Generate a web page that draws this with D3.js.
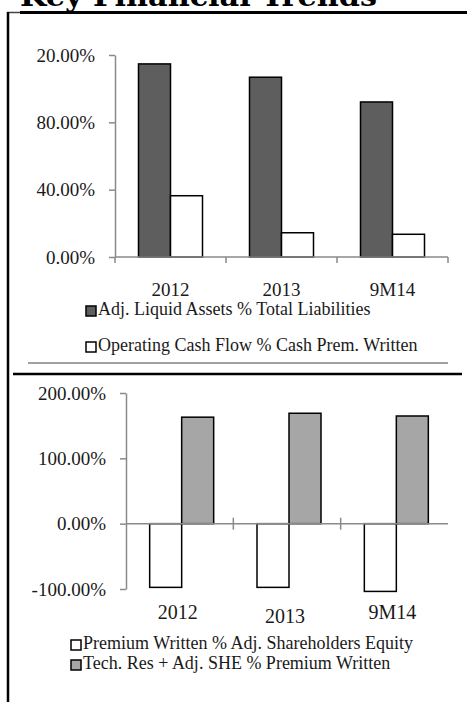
<!DOCTYPE html>
<html lang="en">
<head>
<meta charset="UTF-8">
<title>Key Financial Trends</title>
<script src="https://d3js.org/d3.v7.min.js"></script>
<style>
    body { margin: 0; background: #fff; }
    text { font-family: "Liberation Serif", "Times New Roman", serif; fill: #1a1a1a; }
    .axis path, .axis line { stroke: #8a8a8a; stroke-width: 1.5; }
    .axis text { font-size: 19px; }
    .legend text { font-size: 18px; }
</style>
</head>
<body>
<div id="chart"></div>
<script>
// chart 1: liquidity
const categories = ["2012", "2013", "9M14"];
const liquidAssets = [114.7, 106.8, 92.1];      // Adj. Liquid Assets % Total Liabilities
const operatingCash = [36.4, 14.4, 13.5];       // Operating Cash Flow % Cash Prem. Written
const topTicks = [0, 40, 80, 120];
const topTickLabels = ["0.00%", "40.00%", "80.00%", "20.00%"];

// chart 2: premium
const premiumWritten = [-97.5, -97.5, -103.7];  // Premium Written % Adj. Shareholders Equity
const techReserves = [163, 169, 164.8];         // Tech. Res + Adj. SHE % Premium Written
const bottomTicks = [-100, 0, 100, 200];
const bottomTickLabels = ["-100.00%", "0.00%", "100.00%", "200.00%"];

const width = 467, height = 702;

const svg = d3.select("#chart").append("svg")
    .attr("width", width)
    .attr("height", height);

// title, cut off at the top
svg.append("text")
    .attr("x", 20)
    .attr("y", 6)
    .attr("textLength", 357)
    .attr("lengthAdjust", "spacingAndGlyphs")
    .style("font-family", "'DejaVu Serif', serif")
    .style("font-weight", "bold")
    .style("font-size", "28px")
    .style("fill", "#000")
    .text("Key Financial Trends");

// frame lines
svg.append("line").attr("x1", 7).attr("x2", 20).attr("y1", 12.5).attr("y2", 12.5)
    .attr("stroke", "#444").attr("stroke-width", 1.5);
svg.append("line").attr("x1", 20).attr("x2", 467).attr("y1", 12.5).attr("y2", 12.5)
    .attr("stroke", "#000").attr("stroke-width", 3);
svg.append("line").attr("x1", 8).attr("x2", 8).attr("y1", 12).attr("y2", 702)
    .attr("stroke", "#000").attr("stroke-width", 2.5);
svg.append("line").attr("x1", 28).attr("x2", 448).attr("y1", 363).attr("y2", 363)
    .attr("stroke", "#a0a0a0").attr("stroke-width", 2);
svg.append("line").attr("x1", 13).attr("x2", 462).attr("y1", 374).attr("y2", 374)
    .attr("stroke", "#000").attr("stroke-width", 2.5);

// ---------- chart 1 ----------
const x1 = d3.scaleBand().domain(categories).range([115, 448]).padding(0);
const sub1 = d3.scaleBand().domain([0, 1])
    .range([x1.bandwidth() / 2 - 32, x1.bandwidth() / 2 + 32]).padding(0);
const y1 = d3.scaleLinear().domain([0, 120]).range([257, 55]);

const series1 = [
    {values: liquidAssets, fill: "#5e5e5e"},
    {values: operatingCash, fill: "#ffffff"}
];

series1.forEach((s, i) => {
    svg.append("g").selectAll("rect")
        .data(s.values)
        .enter().append("rect")
        .attr("x", (d, j) => x1(categories[j]) + sub1(i))
        .attr("width", sub1.bandwidth())
        .attr("y", d => y1(d))
        .attr("height", d => y1(0) - y1(d))
        .attr("fill", s.fill)
        .attr("stroke", "#000")
        .attr("stroke-width", 1.5);
});

svg.append("g")
    .attr("class", "axis")
    .attr("transform", "translate(115,0)")
    .call(d3.axisLeft(y1).tickValues(topTicks)
        .tickFormat((d, i) => topTickLabels[i]).tickSize(6).tickSizeOuter(0).tickPadding(14));

const boundaries1 = categories.map(c => x1(c)).concat([x1.range()[1]]);
const xAxis1 = svg.append("g").attr("class", "axis");
xAxis1.append("line")
    .attr("x1", 115).attr("x2", 448).attr("y1", y1(0)).attr("y2", y1(0));
xAxis1.selectAll(".tk").data(boundaries1).enter().append("line")
    .attr("x1", d => d).attr("x2", d => d)
    .attr("y1", y1(0)).attr("y2", y1(0) + 6);
xAxis1.selectAll("text").data(categories).enter().append("text")
    .attr("x", d => x1(d) + x1.bandwidth() / 2)
    .attr("y", 296)
    .attr("text-anchor", "middle")
    .style("font-size", "19px")
    .text(d => d);

const legend1 = [
    {label: "Adj. Liquid Assets % Total Liabilities", fill: "#5e5e5e"},
    {label: "Operating Cash Flow % Cash Prem. Written", fill: "#ffffff"}
];
const lg1 = svg.append("g").attr("class", "legend");
lg1.selectAll("rect").data(legend1).enter().append("rect")
    .attr("x", 86).attr("y", (d, i) => 306 + i * 36)
    .attr("width", 10).attr("height", 10)
    .attr("fill", d => d.fill).attr("stroke", "#000").attr("stroke-width", 1.5);
lg1.selectAll("text").data(legend1).enter().append("text")
    .attr("x", 98).attr("y", (d, i) => 315 + i * 36)
    .text(d => d.label);

// ---------- chart 2 ----------
const x2 = d3.scaleBand().domain(categories).range([126, 448]).padding(0);
const sub2 = d3.scaleBand().domain([0, 1])
    .range([x2.bandwidth() / 2 - 30, x2.bandwidth() / 2 + 34]).padding(0);
const y2 = d3.scaleLinear().domain([-100, 200]).range([589, 393]);

const series2 = [
    {values: premiumWritten, fill: "#ffffff"},
    {values: techReserves, fill: "#a6a6a6"}
];

series2.forEach((s, i) => {
    svg.append("g").selectAll("rect")
        .data(s.values)
        .enter().append("rect")
        .attr("x", (d, j) => x2(categories[j]) + sub2(i))
        .attr("width", sub2.bandwidth())
        .attr("y", d => Math.min(y2(d), y2(0)))
        .attr("height", d => Math.abs(y2(d) - y2(0)))
        .attr("fill", s.fill)
        .attr("stroke", "#000")
        .attr("stroke-width", 1.5);
});

svg.append("g")
    .attr("class", "axis")
    .attr("transform", "translate(126,0)")
    .call(d3.axisLeft(y2).tickValues(bottomTicks)
        .tickFormat((d, i) => bottomTickLabels[i]).tickSize(6).tickSizeOuter(0).tickPadding(14));

const boundaries2 = categories.slice(1).map(c => x2(c));
const xAxis2 = svg.append("g").attr("class", "axis");
xAxis2.append("line")
    .attr("x1", 126).attr("x2", 448).attr("y1", y2(0)).attr("y2", y2(0));
xAxis2.selectAll(".tk").data(boundaries2).enter().append("line")
    .attr("x1", d => d).attr("x2", d => d)
    .attr("y1", y2(0) - 6).attr("y2", y2(0) + 6);
xAxis2.selectAll("text").data(categories).enter().append("text")
    .attr("x", d => x2(d) + x2.bandwidth() / 2 - 2)
    .attr("y", (d, i) => i === 1 ? 623 : 619)
    .attr("text-anchor", "middle")
    .style("font-size", "20px")
    .text(d => d);

const legend2 = [
    {label: "Premium Written % Adj. Shareholders Equity", fill: "#ffffff"},
    {label: "Tech. Res + Adj. SHE % Premium Written", fill: "#a6a6a6"}
];
const lg2 = svg.append("g").attr("class", "legend");
lg2.selectAll("rect").data(legend2).enter().append("rect")
    .attr("x", 71).attr("y", (d, i) => 640 + i * 20)
    .attr("width", 10).attr("height", 10)
    .attr("fill", d => d.fill).attr("stroke", "#000").attr("stroke-width", 1.5);
lg2.selectAll("text").data(legend2).enter().append("text")
    .attr("x", 83).attr("y", (d, i) => 649 + i * 20)
    .text(d => d.label);
</script>
</body>
</html>
